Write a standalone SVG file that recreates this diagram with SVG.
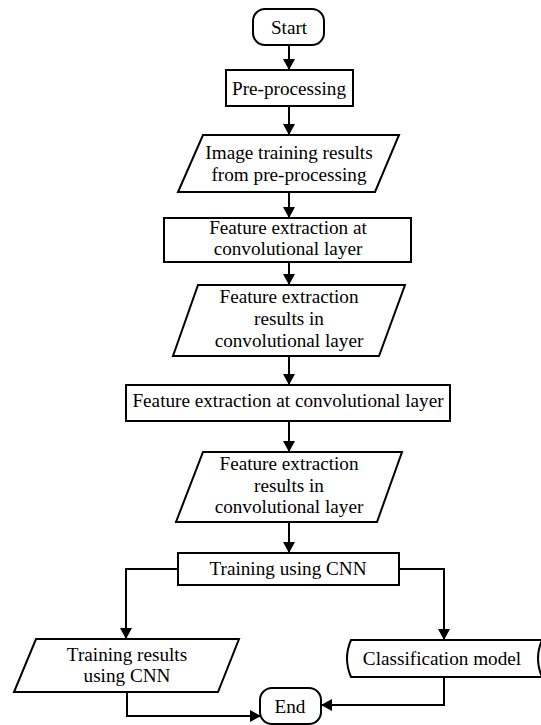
<svg xmlns="http://www.w3.org/2000/svg" width="541" height="725" viewBox="0 0 541 725">
<style>
.s{fill:#fff;stroke:#000;stroke-width:2}
.c{fill:none;stroke:#000;stroke-width:2}
.t{font-family:'Liberation Serif','Times New Roman',Tinos,Times,'DejaVu Serif',serif;font-size:19.2px;fill:#000;text-anchor:middle}
</style>
<defs>
<marker id="ah" viewBox="0 0 11 12" markerWidth="11" markerHeight="12" refX="11" refY="6" orient="auto" markerUnits="userSpaceOnUse">
<path d="M0,0 L11,6 L0,12 Z" fill="#000"/>
</marker>
</defs>
<rect width="541" height="725" fill="#fff"/>
<g id="connectors">
<path class="c" d="M289,45 V70" marker-end="url(#ah)"/>
<path class="c" d="M289,106 V135" marker-end="url(#ah)"/>
<path class="c" d="M289,192 V218" marker-end="url(#ah)"/>
<path class="c" d="M289,262 V285" marker-end="url(#ah)"/>
<path class="c" d="M289,356 V385" marker-end="url(#ah)"/>
<path class="c" d="M289,421 V452" marker-end="url(#ah)"/>
<path class="c" d="M289,522 V553" marker-end="url(#ah)"/>
<path class="c" d="M178,569 H126 V639" marker-end="url(#ah)"/>
<path class="c" d="M399,569 H444 V640" marker-end="url(#ah)"/>
<path class="c" d="M127,692 V716 H261" marker-end="url(#ah)"/>
<path class="c" d="M444,677 V705 H321" marker-end="url(#ah)"/>
</g>
<g id="start">
<rect class="s" x="253" y="9" width="71" height="36" rx="12"/>
<text class="t" x="289" y="34" font-family="Liberation Serif, serif">Start</text>
</g>
<g id="preprocessing">
<rect class="s" x="226" y="70" width="127" height="36"/>
<text class="t" x="289" y="95">Pre-processing</text>
</g>
<g id="image-results">
<polygon class="s" points="203,135 399,135 375,192 178,192"/>
<text class="t" x="289" y="159">Image training results</text>
<text class="t" x="289" y="181">from pre-processing</text>
</g>
<g id="feature-extraction-1">
<rect class="s" x="164" y="218" width="247" height="44"/>
<text class="t" x="288" y="234">Feature extraction at</text>
<text class="t" x="288" y="255">convolutional layer</text>
</g>
<g id="feature-results-1">
<polygon class="s" points="198,285 405,285 379,356 173,356"/>
<text class="t" x="289" y="303">Feature extraction</text>
<text class="t" x="289" y="325">results in</text>
<text class="t" x="289" y="347">convolutional layer</text>
</g>
<g id="feature-extraction-2">
<rect class="s" x="126" y="385" width="324" height="36"/>
<text class="t" x="288" y="407">Feature extraction at convolutional layer</text>
</g>
<g id="feature-results-2">
<polygon class="s" points="203,452 402,452 377,522 176,522"/>
<text class="t" x="289" y="470">Feature extraction</text>
<text class="t" x="289" y="492">results in</text>
<text class="t" x="289" y="513">convolutional layer</text>
</g>
<g id="training">
<rect class="s" x="178" y="553" width="221" height="32"/>
<text class="t" x="288" y="575">Training using CNN</text>
</g>
<g id="training-results">
<polygon class="s" points="36,639 239,639 218,692 14,692"/>
<text class="t" x="127" y="661">Training results</text>
<text class="t" x="127" y="682">using CNN</text>
</g>
<g id="classification">
<path class="s" d="M351,640 H548 V677 H351 Q343,658.5 351,640 Z"/>
<path class="c" d="M542,640 Q534,658.5 542,677"/>
<text class="t" x="442" y="665">Classification model</text>
</g>
<g id="end">
<rect class="s" x="260" y="688" width="61" height="36" rx="12"/>
<text class="t" x="290" y="713">End</text>
</g>
</svg>
